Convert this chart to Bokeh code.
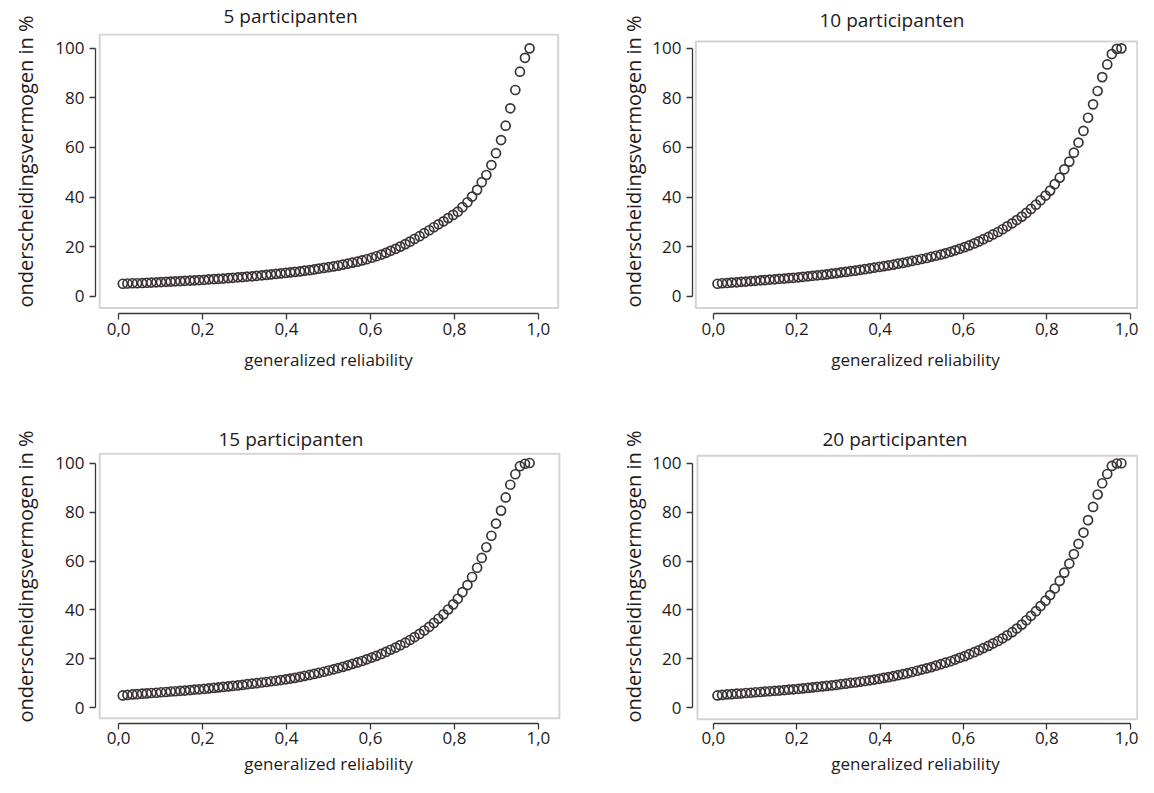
from bokeh.plotting import figure
from bokeh.layouts import column, row
from bokeh.models import Range1d, BoxAnnotation, FixedTicker, CustomJSTickFormatter, ColumnDataSource, Title
from bokeh.embed import file_html
from bokeh.resources import INLINE

# ---------------- data ----------------
reliability = [0.010, 0.021, 0.033, 0.044, 0.056, 0.067, 0.078, 0.090, 0.101, 0.113,
               0.124, 0.135, 0.147, 0.158, 0.170, 0.181, 0.192, 0.204, 0.215, 0.227,
               0.238, 0.249, 0.261, 0.272, 0.284, 0.295, 0.306, 0.318, 0.329, 0.341,
               0.352, 0.363, 0.375, 0.386, 0.398, 0.409, 0.420, 0.432, 0.443, 0.455,
               0.466, 0.477, 0.489, 0.500, 0.512, 0.523, 0.534, 0.546, 0.557, 0.569,
               0.580, 0.591, 0.603, 0.614, 0.626, 0.637, 0.648, 0.660, 0.671, 0.683,
               0.694, 0.705, 0.717, 0.728, 0.740, 0.751, 0.762, 0.774, 0.785, 0.797,
               0.808, 0.819, 0.831, 0.842, 0.854, 0.865, 0.876, 0.888, 0.899, 0.911,
               0.922, 0.933, 0.945, 0.956, 0.968, 0.979]

p5 = [5.0, 5.1, 5.2, 5.2, 5.3, 5.4, 5.5, 5.6, 5.7, 5.8,
      5.9, 6.0, 6.1, 6.2, 6.3, 6.4, 6.5, 6.6, 6.8, 6.9,
      7.0, 7.1, 7.3, 7.4, 7.6, 7.7, 7.9, 8.0, 8.2, 8.4,
      8.6, 8.8, 9.0, 9.2, 9.4, 9.6, 9.8, 10.0, 10.3, 10.5,
      10.8, 11.1, 11.4, 11.7, 12.0, 12.3, 12.7, 13.1, 13.5, 13.9,
      14.4, 14.9, 15.5, 16.1, 16.8, 17.5, 18.3, 19.1, 20.0, 21.0,
      22.0, 23.1, 24.2, 25.4, 26.6, 27.8, 29.0, 30.2, 31.5, 32.8,
      34.1, 35.9, 37.9, 40.2, 42.9, 46.0, 48.9, 52.9, 57.7, 63.0,
      68.8, 75.8, 83.2, 90.6, 96.2, 100.0]

p10 = [5.0, 5.2, 5.3, 5.5, 5.6, 5.8, 5.9, 6.1, 6.2, 6.4,
       6.5, 6.7, 6.8, 7.0, 7.1, 7.3, 7.4, 7.6, 7.8, 8.0,
       8.2, 8.4, 8.6, 8.8, 9.1, 9.3, 9.6, 9.8, 10.1, 10.3,
       10.6, 10.9, 11.2, 11.5, 11.8, 12.1, 12.4, 12.7, 13.1, 13.4,
       13.8, 14.2, 14.6, 15.0, 15.4, 15.9, 16.3, 16.8, 17.3, 17.9,
       18.5, 19.1, 19.8, 20.5, 21.3, 22.1, 23.0, 23.9, 24.9, 25.9,
       27.0, 28.2, 29.4, 30.7, 32.1, 33.6, 35.2, 36.9, 38.7, 40.6,
       42.6, 45.2, 47.8, 51.2, 54.3, 57.9, 62.0, 66.7, 72.0, 77.4,
       82.8, 88.4, 93.5, 97.7, 99.8, 100.0]

p15 = [5.0, 5.2, 5.4, 5.5, 5.7, 5.8, 6.0, 6.1, 6.3, 6.4,
       6.6, 6.7, 6.9, 7.0, 7.2, 7.4, 7.5, 7.7, 7.9, 8.1,
       8.3, 8.5, 8.7, 8.9, 9.1, 9.3, 9.6, 9.8, 10.0, 10.3,
       10.5, 10.8, 11.0, 11.3, 11.6, 11.9, 12.2, 12.6, 13.0, 13.4,
       13.8, 14.2, 14.7, 15.2, 15.7, 16.2, 16.7, 17.3, 17.9, 18.5,
       19.1, 19.8, 20.5, 21.2, 22.0, 22.8, 23.7, 24.6, 25.6, 26.6,
       27.7, 28.9, 30.2, 31.6, 33.1, 34.7, 36.4, 38.2, 40.2, 42.3,
       44.6, 47.3, 50.2, 53.5, 57.3, 61.3, 65.7, 70.4, 75.4, 80.7,
       86.1, 91.3, 95.6, 98.9, 99.9, 100.2]

p20 = [5.0, 5.2, 5.4, 5.5, 5.7, 5.8, 6.0, 6.1, 6.3, 6.4,
       6.6, 6.7, 6.9, 7.0, 7.2, 7.4, 7.5, 7.7, 7.9, 8.1,
       8.3, 8.5, 8.7, 8.9, 9.1, 9.3, 9.6, 9.8, 10.1, 10.3,
       10.6, 10.9, 11.2, 11.5, 11.8, 12.2, 12.5, 12.9, 13.3, 13.7,
       14.1, 14.6, 15.1, 15.6, 16.1, 16.6, 17.2, 17.8, 18.4, 19.0,
       19.7, 20.4, 21.1, 21.9, 22.7, 23.5, 24.4, 25.3, 26.3, 27.3,
       28.4, 29.6, 30.9, 32.4, 34.0, 35.8, 37.6, 39.5, 41.6, 43.8,
       46.1, 48.8, 51.9, 55.3, 59.0, 62.9, 67.1, 71.7, 76.8, 82.2,
       87.3, 91.9, 95.7, 99.0, 100.0, 100.1]

titles = ["5 participanten", "10 participanten", "15 participanten", "20 participanten"]
x_ticks = [0.0, 0.2, 0.4, 0.6, 0.8, 1.0]
x_tick_labels = ["0,0", "0,2", "0,4", "0,6", "0,8", "1,0"]
y_ticks = [0, 20, 40, 60, 80, 100]
y_tick_labels = ["0", "20", "40", "60", "80", "100"]
x_label = "generalized reliability"
y_label = "onderscheidingsvermogen in %"

# ---------------- styling ----------------
FONT = "Open Sans"
TEXT = "#1e1a1b"
AXIS = "#3a3637"
BOX = "#746e6f"
MARK = "#3c3435"

LABEL_JS = """
for (let i = 0; i < vals.length; i++) {
    if (Math.abs(vals[i] - tick) < 1e-6) { return labs[i]; }
}
return '';
"""


def panel(title, ys, width, height, bl, br, bt, bb, xr, yr, box, title_offset,
          title_valign, title_standoff, ylab_offset, ylab_standoff, x_std):
    p = figure(width=width, height=height,
               x_range=Range1d(*xr), y_range=Range1d(*yr),
               output_backend="svg", toolbar_location=None,
               min_border_left=bl, min_border_right=br,
               min_border_top=bt, min_border_bottom=bb, title=title)
    p.outline_line_color = None
    p.xgrid.visible = False
    p.ygrid.visible = False
    p.background_fill_color = "white"
    p.border_fill_color = "white"

    bl_, br_, bb_, bt_ = box
    p.add_layout(BoxAnnotation(left=bl_, right=br_, bottom=bb_, top=bt_,
                               fill_alpha=0, line_color=BOX, line_width=2))

    src = ColumnDataSource(dict(x=reliability, y=ys))
    p.scatter(x="x", y="y", source=src, marker="circle", size=9,
              fill_color=None, line_color=MARK, line_width=1.7)

    xa = p.xaxis[0]
    xa.ticker = FixedTicker(ticks=x_ticks)
    xa.formatter = CustomJSTickFormatter(args=dict(vals=x_ticks, labs=x_tick_labels), code=LABEL_JS)
    xa.bounds = (0, 1)
    xa.axis_label = x_label
    xa.axis_label_standoff = x_std[1]
    xa.major_label_standoff = x_std[0]
    xa.axis_label_text_font_size = "17px"

    ya = p.yaxis[0]
    ya.ticker = FixedTicker(ticks=y_ticks)
    ya.formatter = CustomJSTickFormatter(args=dict(vals=y_ticks, labs=y_tick_labels), code=LABEL_JS)
    ya.bounds = (0, 100)
    ya.major_label_standoff = 5
    ya.major_label_orientation = "horizontal"

    for ax in (xa, ya):
        ax.minor_tick_line_color = None
        ax.major_tick_in = 0
        ax.major_tick_out = 6
        ax.axis_line_color = AXIS
        ax.axis_line_width = 1.3
        ax.major_tick_line_color = AXIS
        ax.major_tick_line_width = 1.3
        ax.major_label_text_font = FONT
        ax.major_label_text_font_size = "17px"
        ax.major_label_text_color = TEXT
        ax.axis_label_text_font = FONT
        ax.axis_label_text_font_style = "normal"
        ax.axis_label_text_color = TEXT

    # vertical axis title, placed outside the y axis
    ylab = Title(text=y_label, align="left", offset=ylab_offset,
                 vertical_align="top", standoff=ylab_standoff,
                 text_font=FONT, text_font_size="20px", text_font_style="normal",
                 text_color=TEXT)
    p.add_layout(ylab, "left")

    p.title.text_font = FONT
    p.title.text_font_size = "19px"
    p.title.text_font_style = "normal"
    p.title.text_color = TEXT
    p.title.align = "left"
    p.title.offset = title_offset
    p.title.vertical_align = title_valign
    p.title.standoff = title_standoff
    return p


# column 1: frame left at 101; column 2: frame left at 700 (right edge 1146)
f1 = panel(titles[0], p5, 600, 412, 93, 39, 33, 99,
           (-0.055, 1.055), (-7, 106), (-0.045, 1.047, -4.8, 105.6), 128,
           "top", 5, 6, 23, (3, 10))
f2 = panel(titles[1], p10, 538, 412, 92, 0, 33, 99,
           (-0.05, 1.02), (-7, 106), (-0.042, 1.017, -4.8, 102.8), 127,
           "bottom", 1, 6, 2, (3, 10))
f3 = panel(titles[2], p15, 600, 365, 93, 39, 40, 20,
           (-0.055, 1.055), (-6.5, 104.5), (-0.045, 1.050, -4.4, 104.0), 123,
           "bottom", 2, 1, 23, (2, 5))
f4 = panel(titles[3], p20, 538, 365, 92, 0, 40, 20,
           (-0.05, 1.02), (-6.5, 104.5), (-0.038, 1.017, -4.8, 103.2), 130,
           "bottom", 2, 1, 2, (2, 5))

layout = column(row(f1, f2, spacing=0), row(f3, f4, spacing=0), spacing=0)

open("out.html", "w").write(file_html(layout, INLINE))
